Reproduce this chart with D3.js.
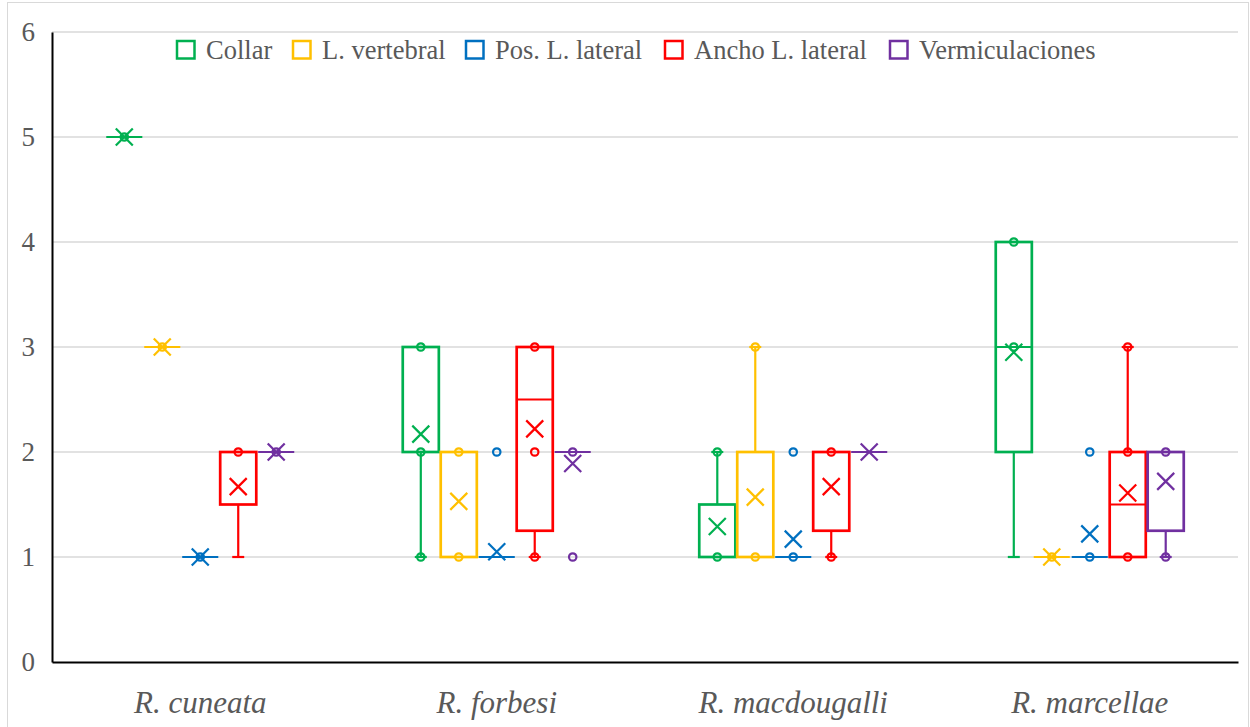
<!DOCTYPE html>
<html>
<head>
<meta charset="utf-8">
<script src="https://cdn.jsdelivr.net/npm/d3@7"></script>
<style>
  body { margin: 0; background: #fff; }
  text { font-family: "Liberation Serif", "Times New Roman", serif; }
</style>
</head>
<body>
<script>
// categorías y series
const species = ['R. cuneata', 'R. forbesi', 'R. macdougalli', 'R. marcellae']
const series = ['Collar', 'L. vertebral', 'Pos. L. lateral', 'Ancho L. lateral', 'Vermiculaciones']
const colors = ['#00B050', '#FFC000', '#0070C0', '#FF0000', '#7030A0']
const yTicks = [0, 1, 2, 3, 4, 5, 6]

// una fila por serie, una columna por especie
const q1 = [[5, 2, 1, 2], [3, 1, 1, 1], [1, 1, 1, 1], [1.5, 1.25, 1.25, 1], [2, 2, 2, 1.25]]
const q3 = [[5, 3, 1.5, 4], [3, 2, 2, 1], [1, 1, 1, 1], [2, 3, 2, 2], [2, 2, 2, 2]]
const median = [[5, 2, 1, 3], [3, 1, 1, 1], [1, 1, 1, 1], [2, 2.5, 2, 1.5], [2, 2, 2, 2]]
const whiskerLow = [[5, 1, 1, 1], [3, 1, 1, 1], [1, 1, 1, 1], [1, 1, 1, 1], [2, 2, 2, 1]]
const whiskerHigh = [[5, 3, 2, 4], [3, 2, 3, 1], [1, 1, 1, 1], [2, 3, 2, 3], [2, 2, 2, 2]]
const means = [[5, 2.17, 1.29, 2.95], [3, 1.53, 1.57, 1], [1, 1.05, 1.17, 1.22], [1.67, 2.22, 1.67, 1.61], [2, 1.89, 2, 1.72]]
const points = [
    [[5], [3, 2, 1], [2, 1], [4, 3]],
    [[3], [2, 1], [3, 1], [1]],
    [[1], [2], [2, 1], [2, 1]],
    [[2], [3, 2, 1], [2, 1], [3, 2, 1]],
    [[2], [2, 1], [], [2, 1]]
]

const width = 1250, height = 727
const margin = {left: 52, right: 12, top: 32, bottom: 65}
const font = '"Liberation Serif", "Times New Roman", serif'

const svg = d3.select('body').append('svg').attr('width', width).attr('height', height)

// borde del área del gráfico
svg.append('rect').attr('x', 7.5).attr('y', 2.5).attr('width', width - 9).attr('height', height)
    .attr('fill', 'none').attr('stroke', '#d9d9d9')

const x0 = d3.scaleBand(species, [margin.left, width - margin.right])
const x1 = d3.scaleBand(series, [x0.bandwidth() / 2 - 94, x0.bandwidth() / 2 + 94]).paddingInner(0.05)
const y = d3.scaleLinear([0, 6], [height - margin.bottom, margin.top])

// rejilla
svg.append('g').selectAll('line').data(yTicks.slice(1)).join('line')
    .attr('x1', margin.left).attr('x2', width - margin.right)
    .attr('y1', d => y(d)).attr('y2', d => y(d))
    .attr('stroke', '#d9d9d9').attr('stroke-width', 1.5)

// eje y
const yAxis = svg.append('g').attr('transform', `translate(${margin.left},0)`)
    .call(d3.axisLeft(y).tickValues(yTicks).tickFormat(d3.format('d')).tickSize(0).tickPadding(17))
yAxis.attr('font-family', null)
yAxis.select('.domain').attr('stroke', '#000').attr('stroke-width', 2)
yAxis.selectAll('text').attr('font-size', 27).attr('fill', '#595959').style('font-family', font)

// eje x
const xAxis = svg.append('g').attr('transform', `translate(0,${y(0)})`)
    .call(d3.axisBottom(x0).tickSize(0).tickPadding(29))
xAxis.attr('font-family', null)
xAxis.select('.domain').attr('stroke', '#000').attr('stroke-width', 2)
xAxis.selectAll('text').attr('font-size', 31).attr('fill', '#595959')
    .attr('font-style', 'italic').style('font-family', font)

// cajas
const bw = x1.bandwidth()
species.forEach((sp, j) => {
    series.forEach((se, i) => {
        const g = svg.append('g').attr('transform', `translate(${x0(sp) + x1(se)},0)`)
        const c = colors[i]
        const cx = bw / 2
        // bigotes
        if (whiskerHigh[i][j] > q3[i][j]) {
            g.append('line').attr('x1', cx).attr('x2', cx)
                .attr('y1', y(q3[i][j])).attr('y2', y(whiskerHigh[i][j]))
                .attr('stroke', c).attr('stroke-width', 2.2)
            g.append('line').attr('x1', cx - 6).attr('x2', cx + 6)
                .attr('y1', y(whiskerHigh[i][j])).attr('y2', y(whiskerHigh[i][j]))
                .attr('stroke', c).attr('stroke-width', 2.2)
        }
        if (whiskerLow[i][j] < q1[i][j]) {
            g.append('line').attr('x1', cx).attr('x2', cx)
                .attr('y1', y(q1[i][j])).attr('y2', y(whiskerLow[i][j]))
                .attr('stroke', c).attr('stroke-width', 2.2)
            g.append('line').attr('x1', cx - 6).attr('x2', cx + 6)
                .attr('y1', y(whiskerLow[i][j])).attr('y2', y(whiskerLow[i][j]))
                .attr('stroke', c).attr('stroke-width', 2.2)
        }
        // caja
        if (q3[i][j] > q1[i][j]) {
            g.append('rect').attr('x', 0).attr('width', bw)
                .attr('y', y(q3[i][j])).attr('height', y(q1[i][j]) - y(q3[i][j]))
                .attr('fill', 'none').attr('stroke', c).attr('stroke-width', 2.7)
        }
        // mediana
        g.append('line').attr('x1', 0).attr('x2', bw)
            .attr('y1', y(median[i][j])).attr('y2', y(median[i][j]))
            .attr('stroke', c).attr('stroke-width', 2.2)
        // puntos
        g.selectAll('circle').data(points[i][j]).join('circle')
            .attr('cx', cx).attr('cy', d => y(d)).attr('r', 3.7)
            .attr('fill', 'none').attr('stroke', c).attr('stroke-width', 2.2)
        // media
        const my = y(means[i][j]), s = 8.5
        g.append('path')
            .attr('d', `M${cx - s},${my - s}L${cx + s},${my + s}M${cx - s},${my + s}L${cx + s},${my - s}`)
            .attr('stroke', c).attr('stroke-width', 2.2).attr('fill', 'none')
    })
})

// leyenda
const legendX = [177, 293, 466, 665, 890]
const legend = svg.append('g').selectAll('g').data(series).join('g')
    .attr('transform', (d, i) => `translate(${legendX[i]},41)`)
legend.append('rect').attr('width', 17.5).attr('height', 17.5)
    .attr('fill', 'none').attr('stroke', (d, i) => colors[i]).attr('stroke-width', 2.5)
legend.append('text').attr('x', 29).attr('y', 9).attr('dy', '0.35em')
    .attr('font-size', 26.5).attr('fill', '#595959').text(d => d)
</script>
</body>
</html>
